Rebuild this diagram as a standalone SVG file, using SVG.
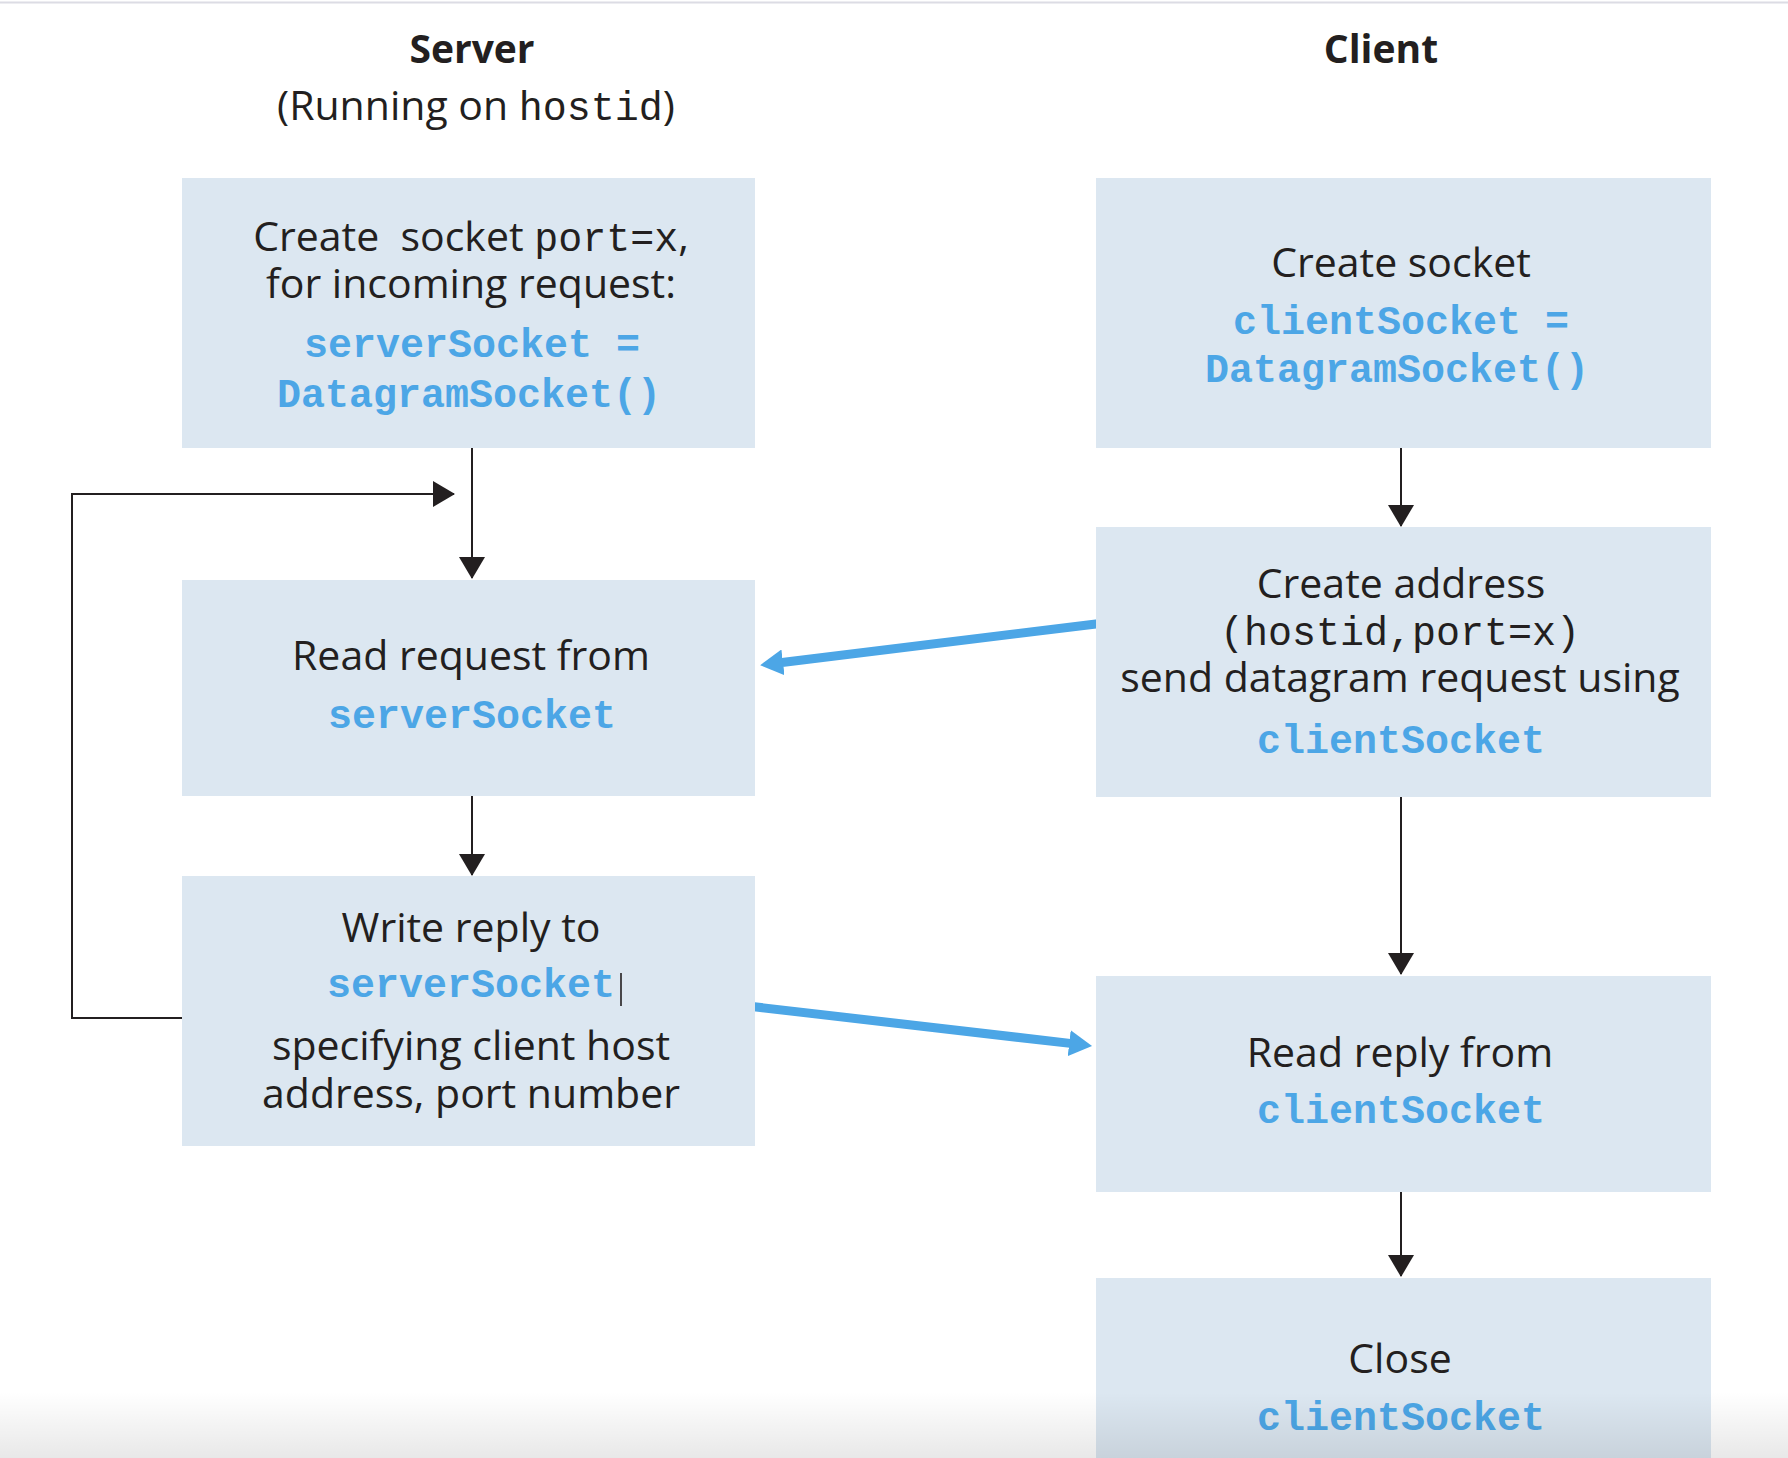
<svg xmlns="http://www.w3.org/2000/svg" width="1788" height="1458" viewBox="0 0 1788 1458">
  <style>
    .box { fill: #dce7f1; }
    .t { font-family: "Open Sans", "Liberation Sans", sans-serif; font-size: 41px; fill: #231f20; text-anchor: middle; white-space: pre; }
    .h { font-weight: bold; font-size: 39px; }
    .m { font-family: "Liberation Mono", "Courier New", monospace; font-size: 40px; }
    .c { font-family: "Liberation Mono", "Courier New", monospace; font-size: 40px; font-weight: bold; fill: #4ca6e6; text-anchor: middle; white-space: pre; }
    .ln { stroke: #231f20; stroke-width: 2; fill: none; }
    .bl { stroke: #4ca6e6; stroke-width: 9; fill: none; }
  </style>
  <defs>
    <marker id="ah" markerUnits="userSpaceOnUse" viewBox="0 0 22 26" markerWidth="22" markerHeight="26" refX="21" refY="13" orient="auto">
      <path d="M0,0 L22,13 L0,26 z" fill="#231f20"/>
    </marker>
    <marker id="bh" markerUnits="userSpaceOnUse" viewBox="0 0 23 26" markerWidth="23" markerHeight="26" refX="1" refY="13" orient="auto">
      <path d="M0,0 L23,13 L0,26 z" fill="#4ca6e6"/>
    </marker>
    <linearGradient id="shade" x1="0" y1="0" x2="0" y2="1">
      <stop offset="0" stop-color="#000" stop-opacity="0"/>
      <stop offset="1" stop-color="#000" stop-opacity="0.09"/>
    </linearGradient>
  </defs>
  <rect x="0" y="0" width="1788" height="1458" fill="#ffffff"/>
  <line x1="0" y1="2.5" x2="1788" y2="2.5" stroke="#dcdce4" stroke-width="2"/>

  <g id="headers">
    <text class="t h" x="472" y="63">Server</text>
    <text class="t" x="476" y="120">(Running on <tspan class="m">hostid</tspan>)</text>
    <text class="t h" x="1381" y="63">Client</text>
  </g>

  <g id="connectors">
    <line class="ln" x1="472" y1="448" x2="472" y2="578" marker-end="url(#ah)"/>
    <line class="ln" x1="472" y1="796" x2="472" y2="875" marker-end="url(#ah)"/>
    <polyline class="ln" points="182,1018 72,1018 72,494 454,494" marker-end="url(#ah)"/>
    <line class="ln" x1="1401" y1="448" x2="1401" y2="526" marker-end="url(#ah)"/>
    <line class="ln" x1="1401" y1="797" x2="1401" y2="974" marker-end="url(#ah)"/>
    <line class="ln" x1="1401" y1="1192" x2="1401" y2="1276" marker-end="url(#ah)"/>
    <line class="bl" x1="1100" y1="623.5" x2="782" y2="662.5" marker-end="url(#bh)"/>
    <line class="bl" x1="752" y1="1006.5" x2="1070.2" y2="1043.4" marker-end="url(#bh)"/>
  </g>

  <g id="server-create">
    <rect class="box" x="182" y="178" width="573" height="270"/>
    <text class="t" x="471" y="251">Create  socket <tspan class="m">port=x</tspan>,</text>
    <text class="t" x="471" y="298">for incoming request:</text>
    <text class="c" x="472" y="357">serverSocket =</text>
    <text class="c" x="469" y="407">DatagramSocket()</text>
  </g>

  <g id="server-read">
    <rect class="box" x="182" y="580" width="573" height="216"/>
    <text class="t" x="471" y="670">Read request from</text>
    <text class="c" x="472" y="728">serverSocket</text>
  </g>

  <g id="server-write">
    <rect class="box" x="182" y="876" width="573" height="270"/>
    <text class="t" x="471" y="942">Write reply to</text>
    <text class="c" x="471" y="997">serverSocket</text>
    <line x1="621" y1="973" x2="621" y2="1006" stroke="#231f20" stroke-width="1.6"/>
    <text class="t" x="471" y="1060">specifying client host</text>
    <text class="t" x="471" y="1108">address, port number</text>
  </g>

  <g id="client-create">
    <rect class="box" x="1096" y="178" width="615" height="270"/>
    <text class="t" x="1401" y="277">Create socket</text>
    <text class="c" x="1401" y="334">clientSocket =</text>
    <text class="c" x="1397" y="382">DatagramSocket()</text>
  </g>

  <g id="client-send">
    <rect class="box" x="1096" y="527" width="615" height="270"/>
    <text class="t" x="1401" y="598">Create address</text>
    <text class="t" x="1400" y="645"><tspan class="m">(hostid,port=x)</tspan></text>
    <text class="t" x="1400" y="692">send datagram request using</text>
    <text class="c" x="1401" y="753">clientSocket</text>
  </g>

  <g id="client-read">
    <rect class="box" x="1096" y="976" width="615" height="216"/>
    <text class="t" x="1400" y="1067">Read reply from</text>
    <text class="c" x="1401" y="1123">clientSocket</text>
  </g>

  <g id="client-close">
    <rect class="box" x="1096" y="1278" width="615" height="180"/>
    <text class="t" x="1400" y="1373">Close</text>
    <text class="c" x="1401" y="1430">clientSocket</text>
  </g>

  <rect x="0" y="1392" width="1788" height="66" fill="url(#shade)"/>
</svg>
